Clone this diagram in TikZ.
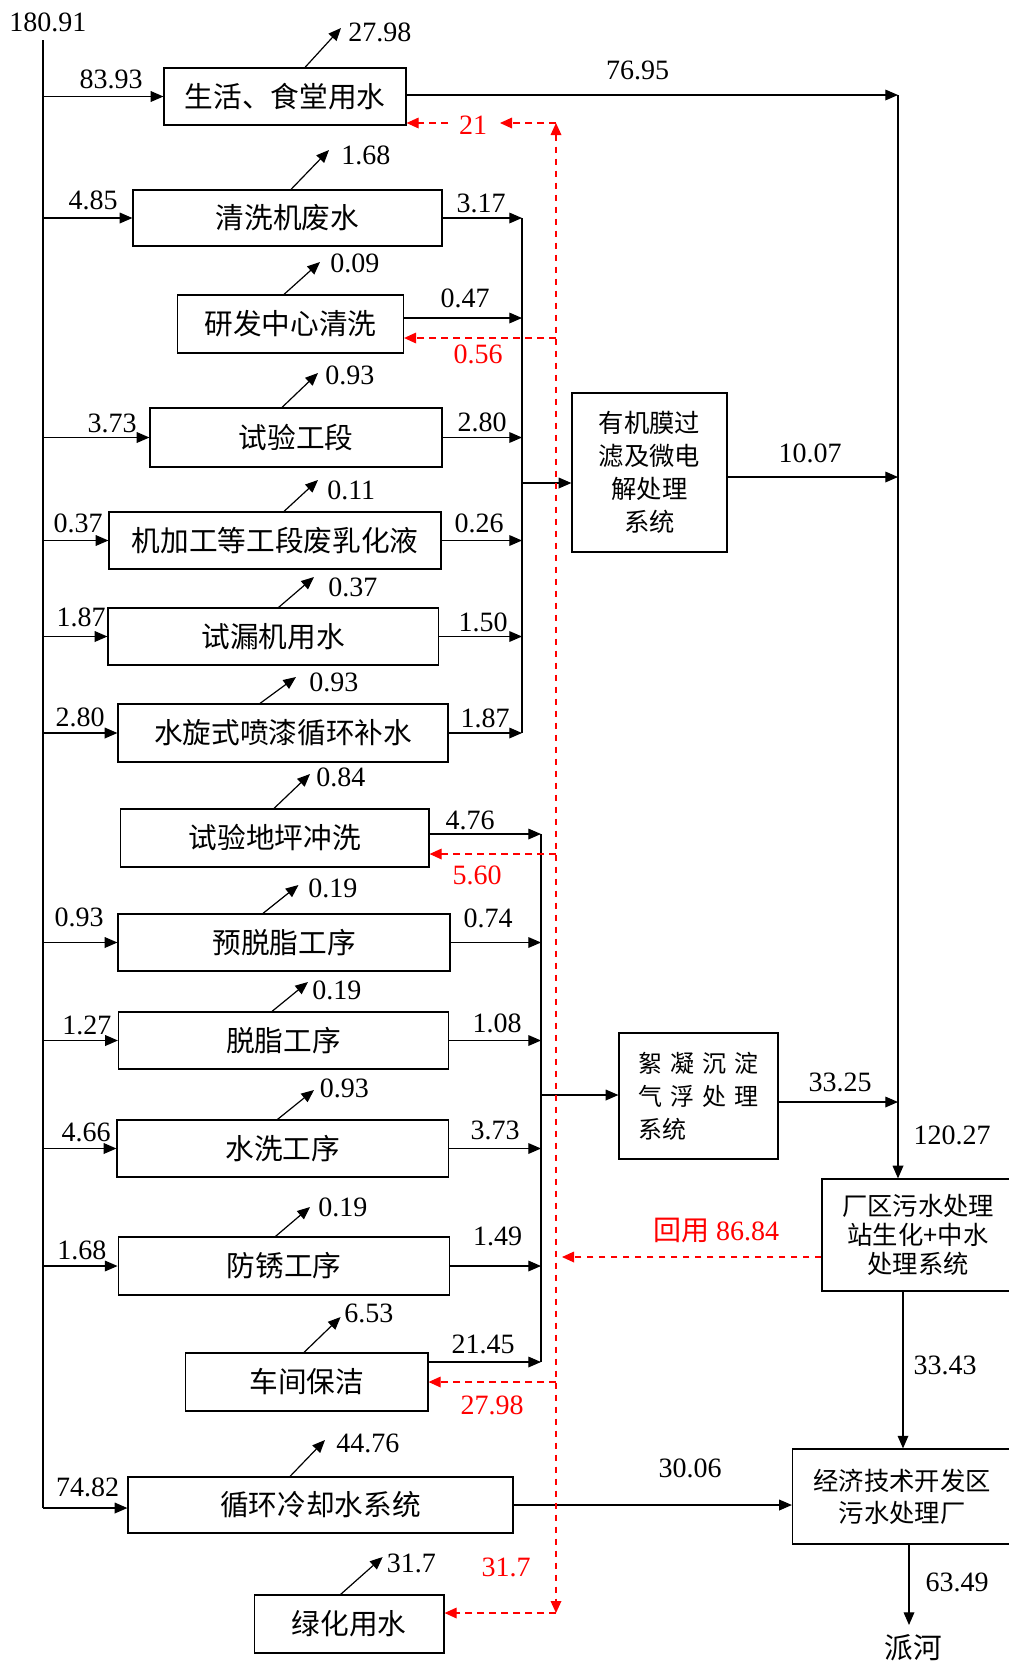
\documentclass[tikz,border=0pt]{standalone}
\usepackage{fontspec}
\setmainfont{Liberation Serif}
\newfontfamily\cjk{Noto Sans CJK SC}
\usetikzlibrary{arrows.meta}
\tikzset{
  ln/.style={line width=0.9pt},
  arr/.style={ln,-{Triangle[length=9.5pt,width=8pt]}},
  rarr/.style={line width=0.9pt,red,dash pattern=on 5pt off 4pt,-{Triangle[length=9pt,width=8pt]}},
  rboth/.style={line width=0.9pt,red,dash pattern=on 5pt off 4pt,{Triangle[length=9pt,width=8pt]}-{Triangle[length=9pt,width=8pt]}},
  box/.style={draw,line width=0.9pt,inner sep=0pt,font=\cjk\fontsize{21.5}{25}\selectfont},
  rbox/.style={draw,line width=0.9pt,inner sep=0pt,align=center},
  num/.style={inner sep=0pt,font=\fontsize{21}{25}\selectfont},
  rnum/.style={num,text=red},
}
\newcommand\bx[6]{\node[box,minimum width=#4*0.75pt,minimum height=#5*0.75pt] (#1) at (#2,#3) {#6};}
\newcommand\uparr[7]{%
  \coordinate (#1s) at (#2,0);
  \coordinate (#1t) at (#3,#4);
  \draw[arr] (#1.north -| #1s) -- (#1t);
  \node[num,anchor=west] (#1l) at (#5,#6) {#7};}
\begin{document}
\begin{tikzpicture}[x=0.75pt,y=-0.75pt]
\useasboundingbox (0,0) rectangle (1009,1661);

% process boxes
\bx{b1}{285}{96.5}{242}{57}{生活、食堂用水}
\bx{b2}{287.5}{218}{309}{56}{清洗机废水}
\bx{b3}{290.5}{324}{226}{58}{研发中心清洗}
\bx{b4}{296}{437.5}{292}{59}{试验工段}
\bx{b5}{275}{540.5}{332}{57}{机加工等工段废乳化液}
\bx{b6}{273.3}{636.5}{330.6}{57}{试漏机用水}
\bx{b7}{283}{733}{330}{58}{水旋式喷漆循环补水}
\bx{b8}{274.75}{838}{308.5}{58}{试验地坪冲洗}
\bx{b9}{284}{942.5}{332}{57}{预脱脂工序}
\bx{b10}{283.5}{1040.5}{330}{57}{脱脂工序}
\bx{b11}{282.75}{1148.5}{331.5}{57}{水洗工序}
\bx{b12}{284}{1266}{331.7}{58}{防锈工序}
\bx{b13}{306.8}{1382}{242.4}{58}{车间保洁}
\bx{b14}{320.5}{1505}{385}{56}{循环冷却水系统}
\bx{b15}{349.25}{1624}{189.5}{58}{绿化用水}

% treatment boxes
\node[rbox,minimum width=155*0.75pt,minimum height=159*0.75pt,font=\cjk\fontsize{19}{24.75}\selectfont] (m1) at (649.5,472.5) {有机膜过\\滤及微电\\解处理\\系统};
\node[draw,line width=0.9pt,inner sep=0pt,align=left,minimum width=159*0.75pt,minimum height=126*0.75pt,font=\cjk\fontsize{18}{24.75}\selectfont] (m2) at (698.5,1096) {絮\hspace{6pt}凝\hspace{6pt}沉\hspace{6pt}淀\\气\hspace{6pt}浮\hspace{6pt}处\hspace{6pt}理\\系统};
\node[rbox,minimum width=192*0.75pt,minimum height=112*0.75pt,font=\cjk\fontsize{19}{22}\selectfont] (m3) at (918,1235) {厂区污水处理\\站生化+中水\\处理系统};
\node[rbox,minimum width=219*0.75pt,minimum height=95*0.75pt,font=\cjk\fontsize{19}{24}\selectfont] (m4) at (902,1496.5) {经济技术开发区\\污水处理厂};
\node[inner sep=0pt,font=\cjk\fontsize{21.5}{25}\selectfont] (ph) at (913,1648) {派河};

% trunk
\node[num] (l0) at (48,22) {180.91};
\coordinate (tt) at (43,40);
\coordinate (tb) at (43,1508);
\draw[ln] (tt) -- (tb);
\draw[arr] (tb) -- (tb -| b14.west);
\foreach \b in {b1,b2,b4,b5,b6,b7,b9,b10,b11,b12}{
  \draw[arr] (tt |- \b.west) -- (\b.west);
}
\node[num] (i1) at (111,79) {83.93};
\node[num] (i2) at (93,200) {4.85};
\node[num] (i4) at (112,423) {3.73};
\node[num] (i5) at (78,523) {0.37};
\node[num] (i6) at (81,617) {1.87};
\node[num] (i7) at (80,717) {2.80};
\node[num] (i9) at (79,917) {0.93};
\node[num] (i10) at (87,1025) {1.27};
\node[num] (i11) at (86,1132) {4.66};
\node[num] (i12) at (82,1250) {1.68};
\node[num] (i14) at (87.6,1487) {74.82};

% losses (diagonal arrows)
\uparr{b1}{305}{341}{28}{348}{32}{27.98}
\uparr{b2}{291}{329}{150}{341}{155}{1.68}
\uparr{b3}{284}{320}{262}{330}{263}{0.09}
\uparr{b4}{282}{318}{373}{325}{375}{0.93}
\uparr{b5}{284}{318}{480}{327}{490}{0.11}
\uparr{b6}{278.6}{314}{577}{328}{587}{0.37}
\uparr{b7}{260}{296}{677}{309}{682}{0.93}
\uparr{b8}{274}{310}{774}{316}{777}{0.84}
\uparr{b9}{263}{298.5}{885}{308}{888}{0.19}
\uparr{b10}{272}{308}{982}{312}{990}{0.19}
\uparr{b11}{277.5}{314}{1090}{319.6}{1088}{0.93}
\uparr{b12}{275.5}{310}{1207}{318}{1207}{0.19}
\uparr{b13}{304}{340.6}{1317}{344}{1313}{6.53}
\uparr{b14}{290}{325}{1440}{336}{1443}{44.76}
\uparr{b15}{340.6}{382.7}{1557}{386.5}{1563}{31.7}

% collector 1
\coordinate (c1t) at (522,218);
\coordinate (c1a) at (522,318);
\coordinate (c1b) at (522,733);
\coordinate (c1m) at (522,483);
\draw[ln] (c1t) -- (c1b);
\draw[arr] (b2.east |- c1t) -- (c1t);
\draw[arr] (b3.east |- c1a) -- (c1a);
\draw[arr] (b4.east) -- (b4.east -| c1t);
\draw[arr] (b5.east) -- (b5.east -| c1t);
\draw[arr] (b6.east) -- (b6.east -| c1t);
\draw[arr] (b7.east |- c1b) -- (c1b);
\draw[arr] (c1m) -- (c1m -| m1.west);
\node[num] (o2) at (481,203) {3.17};
\node[num] (o3) at (465,298) {0.47};
\node[num] (o4) at (482,422) {2.80};
\node[num] (o5) at (479,523) {0.26};
\node[num] (o6) at (483,622) {1.50};
\node[num] (o7) at (485,718) {1.87};

% collector 2
\coordinate (c2t) at (541,834);
\coordinate (c2b) at (541,1362);
\coordinate (c2m) at (541,1095);
\draw[ln] (c2t) -- (c2b);
\draw[arr] (b8.east |- c2t) -- (c2t);
\draw[arr] (b9.east) -- (b9.east -| c2t);
\draw[arr] (b10.east) -- (b10.east -| c2t);
\draw[arr] (b11.east) -- (b11.east -| c2t);
\draw[arr] (b12.east) -- (b12.east -| c2t);
\draw[arr] (b13.east |- c2b) -- (c2b);
\draw[arr] (c2m) -- (c2m -| m2.west);
\node[num] (o8) at (470,820) {4.76};
\node[num] (o9) at (488,918) {0.74};
\node[num] (o10) at (497,1023) {1.08};
\node[num] (o11) at (495,1130) {3.73};
\node[num] (o12) at (497.5,1236) {1.49};
\node[num] (o13) at (483,1344) {21.45};

% right side
\coordinate (vr) at (898,95);
\coordinate (v10) at (898,477);
\coordinate (v33) at (898,1102);
\draw[arr] (b1.east |- vr) -- (vr);
\draw[arr] (vr) -- (vr |- m3.north);
\draw[arr] (m1.east |- v10) -- (v10);
\draw[arr] (m2.east |- v33) -- (v33);
\coordinate (x903) at (903,0);
\draw[arr] (m3.south -| x903) -- (m4.north -| x903);
\draw[arr] (b14.east) -- (b14.east -| m4.west);
\coordinate (pt) at (909,1625);
\draw[arr] (m4.south -| pt) -- (pt);
\node[num] (r1) at (637.7,70) {76.95};
\node[num] (r2) at (810,453) {10.07};
\node[num] (r3) at (840,1082) {33.25};
\node[num] (r4) at (952,1135) {120.27};
\node[num] (r5) at (945,1365) {33.43};
\node[num] (r6) at (690,1468) {30.06};
\node[num] (r7) at (957,1582) {63.49};

% reuse (red dashed)
\coordinate (rt) at (556,123);
\coordinate (rb) at (556,1613);
\draw[rboth] (rt) -- (rb);
\coordinate (r21a) at (500,123);
\coordinate (r21b) at (448,123);
\draw[rarr] (rt) -- (r21a);
\node[rnum] (l21) at (473,125) {21};
\draw[rarr] (r21b) -- (b1.east |- rt);
\coordinate (r056) at (556,338);
\draw[rarr] (r056) -- (b3.east |- r056);
\node[rnum] (l056) at (478,354) {0.56};
\coordinate (r560) at (556,854);
\draw[rarr] (r560) -- (b8.east |- r560);
\node[rnum] (l560) at (477,875) {5.60};
\coordinate (rh) at (562,1257);
\draw[rarr] (m3.west |- rh) -- (rh);
\node[rnum,font=\fontsize{21}{25}\selectfont] (lh) at (716,1230) {{\cjk 回用} 86.84};
\coordinate (r2798) at (556,1382);
\draw[rarr] (r2798) -- (b13.east |- r2798);
\node[rnum] (l2798) at (492,1405) {27.98};
\draw[rarr] (rb) -- (b15.east |- rb);
\node[rnum] (l317) at (506,1567) {31.7};
\end{tikzpicture}
\end{document}
